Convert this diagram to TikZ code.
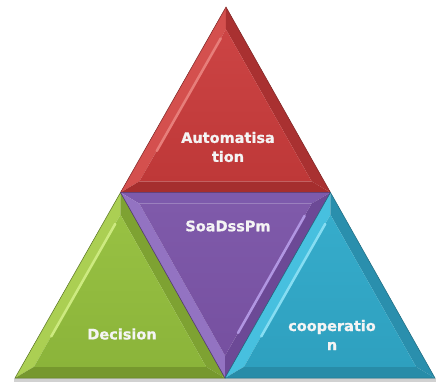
\documentclass[tikz,border=0pt]{standalone}
\usepackage{fontspec}
\newfontfamily\lblfont{DejaVu Sans}[BoldFeatures={FakeBold=0.9}]
\usetikzlibrary{calc}
\definecolor{rFace}{HTML}{BE3838}
\definecolor{rFaceT}{HTML}{CC4444}
\definecolor{rLit}{HTML}{D4504E}
\definecolor{rDark}{HTML}{A93131}
\definecolor{rBot}{HTML}{A52E2E}
\definecolor{rHi}{HTML}{E77E7A}
\definecolor{gFace}{HTML}{8BB43A}
\definecolor{gFaceT}{HTML}{98C143}
\definecolor{gLit}{HTML}{ABCF53}
\definecolor{gDark}{HTML}{7EA232}
\definecolor{gBot}{HTML}{76982E}
\definecolor{gHi}{HTML}{CDEA80}
\definecolor{pFace}{HTML}{7650A0}
\definecolor{pFaceT}{HTML}{7F5AAA}
\definecolor{pLit}{HTML}{9373C2}
\definecolor{pDark}{HTML}{6C4996}
\definecolor{pTop}{HTML}{7D5AAC}
\definecolor{pHi}{HTML}{B196E2}
\definecolor{cFace}{HTML}{2EA0BF}
\definecolor{cFaceT}{HTML}{36ACCB}
\definecolor{cLit}{HTML}{47C0DF}
\definecolor{cDark}{HTML}{2A8FAD}
\definecolor{cBot}{HTML}{288CA8}
\definecolor{cHi}{HTML}{86DDF2}
\definecolor{txt}{HTML}{F4F4F4}
\tikzset{
  lbl/.style={text=txt, font=\lblfont\bfseries\fontsize{14.5}{19}\selectfont, align=center, inner sep=0pt},
  edge/.style={line width=0.5pt, line join=round}
}
\begin{document}
\begin{tikzpicture}[x=1pt,y=1pt]
\useasboundingbox (0,0) rectangle (436,383);
% outer vertices
\coordinate (T) at (226,376);
\coordinate (L) at (15,5);
\coordinate (R) at (435,5);
\coordinate (ML) at (120.5,190.5);
\coordinate (MR) at (330.5,190.5);
\coordinate (MB) at (225,5);
% shadow
\fill[black!18] (14,1.5) rectangle (436,5);
% centroids
\coordinate (cR) at ($1/3*(T)+1/3*(ML)+1/3*(MR)$);
\coordinate (cG) at ($1/3*(ML)+1/3*(L)+1/3*(MB)$);
\coordinate (cP) at ($1/3*(ML)+1/3*(MR)+1/3*(MB)$);
\coordinate (cC) at ($1/3*(MR)+1/3*(MB)+1/3*(R)$);
\def\k{0.82}
% inner vertices
\coordinate (rT) at ($(cR)!\k!(T)$);
\coordinate (rL) at ($(cR)!\k!(ML)$);
\coordinate (rR) at ($(cR)!\k!(MR)$);
\coordinate (gT) at ($(cG)!\k!(ML)$);
\coordinate (gL) at ($(cG)!\k!(L)$);
\coordinate (gR) at ($(cG)!\k!(MB)$);
\coordinate (pL) at ($(cP)!\k!(ML)$);
\coordinate (pR) at ($(cP)!\k!(MR)$);
\coordinate (pB) at ($(cP)!\k!(MB)$);
\coordinate (bT) at ($(cC)!\k!(MR)$);
\coordinate (bL) at ($(cC)!\k!(MB)$);
\coordinate (bR) at ($(cC)!\k!(R)$);
% ---------- red (top) ----------
\fill[rLit] (T) -- (ML) -- (rL) -- (rT) -- cycle;
\fill[rDark] (T) -- (MR) -- (rR) -- (rT) -- cycle;
\fill[rBot] (ML) -- (MR) -- (rR) -- (rL) -- cycle;
\shade[top color=rFaceT, bottom color=rFace] (rT) -- (rL) -- (rR) -- cycle;
\draw[rHi, line width=2.5pt, line cap=round] ($(rT)!0.06!(rL)$) -- ($(rT)!0.8!(rL)$);
\draw[edge, rBot!75!black] (T) -- (ML) -- (MR) -- cycle;
% ---------- green (left) ----------
\fill[gLit] (ML) -- (L) -- (gL) -- (gT) -- cycle;
\fill[gDark] (ML) -- (MB) -- (gR) -- (gT) -- cycle;
\fill[gBot] (L) -- (MB) -- (gR) -- (gL) -- cycle;
\shade[top color=gFaceT, bottom color=gFace] (gT) -- (gL) -- (gR) -- cycle;
\draw[gHi, line width=2.5pt, line cap=round] ($(gT)!0.06!(gL)$) -- ($(gT)!0.8!(gL)$);
\draw[edge, gBot!75!black] (ML) -- (L) -- (MB) -- cycle;
% ---------- purple (middle) ----------
\fill[pTop] (ML) -- (MR) -- (pR) -- (pL) -- cycle;
\fill[pLit] (ML) -- (MB) -- (pB) -- (pL) -- cycle;
\fill[pDark] (MR) -- (MB) -- (pB) -- (pR) -- cycle;
\shade[top color=pFaceT, bottom color=pFace] (pL) -- (pR) -- (pB) -- cycle;
\draw[pHi, line width=2.5pt, line cap=round] ($(pR)!0.08!(pB)$) -- ($(pR)!0.85!(pB)$);
\draw[edge, pDark!75!black] (ML) -- (MR) -- (MB) -- cycle;
% ---------- cyan (right) ----------
\fill[cLit] (MR) -- (MB) -- (bL) -- (bT) -- cycle;
\fill[cDark] (MR) -- (R) -- (bR) -- (bT) -- cycle;
\fill[cBot] (MB) -- (R) -- (bR) -- (bL) -- cycle;
\shade[top color=cFaceT, bottom color=cFace] (bT) -- (bL) -- (bR) -- cycle;
\draw[cHi, line width=2.5pt, line cap=round] ($(bT)!0.06!(bL)$) -- ($(bT)!0.8!(bL)$);
\draw[edge, cBot!75!black] (MR) -- (MB) -- (R) -- cycle;
% ---------- labels ----------
\node[lbl] (auto) at (228,236) {Automatisa\\tion};
\node[lbl] (soa) at (228,157) {SoaDssPm};
\node[lbl] (dec) at (122,49) {Decision};
\node[lbl] (coop) at (332,48) {cooperatio\\n};
\end{tikzpicture}
\end{document}
